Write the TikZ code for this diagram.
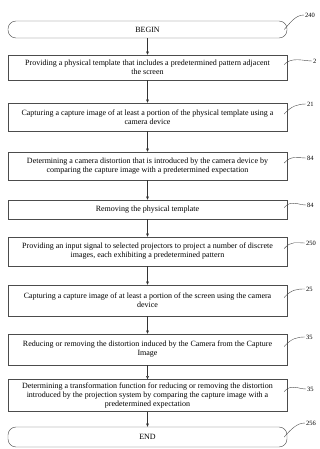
\documentclass[tikz,border=0pt]{standalone}
\usepackage{fontspec}
\setmainfont{Liberation Serif}
\usetikzlibrary{arrows.meta,calc}

\begin{document}
\begin{tikzpicture}[x=1pt,y=-1pt,font=\fontsize{8}{9}\selectfont,
 stepbox/.style={draw=black!70,line width=.45pt,minimum width=279pt,align=center,inner sep=1pt},
 termbox/.style={stepbox,rounded corners=8pt},
 flow/.style={draw=black!80,line width=.4pt,-{Triangle[length=3.2pt,width=2.6pt]}},
 lead/.style={draw=black!70,line width=.4pt},
 refno/.style={font=\fontsize{6.5}{7}\selectfont,anchor=west,inner sep=1pt}]
 \useasboundingbox (0,0) rectangle (320,449);
 % flow steps
 \node[termbox,minimum height=17pt] (begin) at (147.5,29.5) {BEGIN};
 \node[stepbox,minimum height=25pt] (s1) at (147.5,67.5) {Providing a physical template that includes a predetermined pattern adjacent\\the screen};
 \node[stepbox,minimum height=28pt] (s2) at (147.5,117) {Capturing a capture image of at least a portion of the physical template using a\\camera device};
 \node[stepbox,minimum height=28pt] (s3) at (147.5,166) {Determining a camera distortion that is introduced by the camera device by\\comparing the capture image with a predetermined expectation};
 \node[stepbox,minimum height=19pt] (s4) at (147.5,209.5) {Removing the physical template};
 \node[stepbox,minimum height=29pt] (s5) at (147.5,251.5) {Providing an input signal to selected projectors to project a number of discrete\\images, each exhibiting a predetermined pattern};
 \node[stepbox,minimum height=31pt] (s6) at (147.5,300.5) {Capturing a capture image of at least a portion of the screen using the camera\\device};
 \node[stepbox,minimum height=31pt] (s7) at (147.5,349.5) {Reducing or removing the distortion induced by the Camera from the Capture\\Image};
 \node[stepbox,minimum height=32pt] (s8) at (147.5,395.5) {Determining a transformation function for reducing or removing the distortion\\introduced by the projection system by comparing the capture image with a\\predetermined expectation};
 \node[termbox,minimum height=20pt] (end) at (147.5,437) {END};
 \foreach \a/\b in {begin/s1,s1/s2,s2/s3,s3/s4,s4/s5,s5/s6,s6/s7,s7/s8,s8/end}{\draw[flow] (\a.south) -- (\b.north);}
 % reference numerals
 \node[refno] (r0) at (304,15) {240};
 \node[refno] (r1) at (312,61) {2};
 \node[refno] (r2) at (306,104) {21};
 \node[refno] (r3) at (306,158) {84};
 \node[refno] (r4) at (306,205) {84};
 \node[refno] (r5) at (305,243) {250};
 \node[refno] (r6) at (305,289) {25};
 \node[refno] (r7) at (305,337) {35};
 \node[refno] (r8) at (306,389) {35};
 \node[refno] (r9) at (305,423) {256};
 \foreach \s/\r/\dy in {begin/r0/0,s1/r1/-3,s2/r2/-3,s3/r3/-3,s4/r4/-2,s5/r5/-3,s6/r6/-3,s7/r7/-3,s8/r8/-4,end/r9/0}
  {\draw[lead] ([shift={(-3,\dy)}]\s.east) .. controls +(7,-8) and +(-8,0) .. (\r.west);}
\end{tikzpicture}
\end{document}
